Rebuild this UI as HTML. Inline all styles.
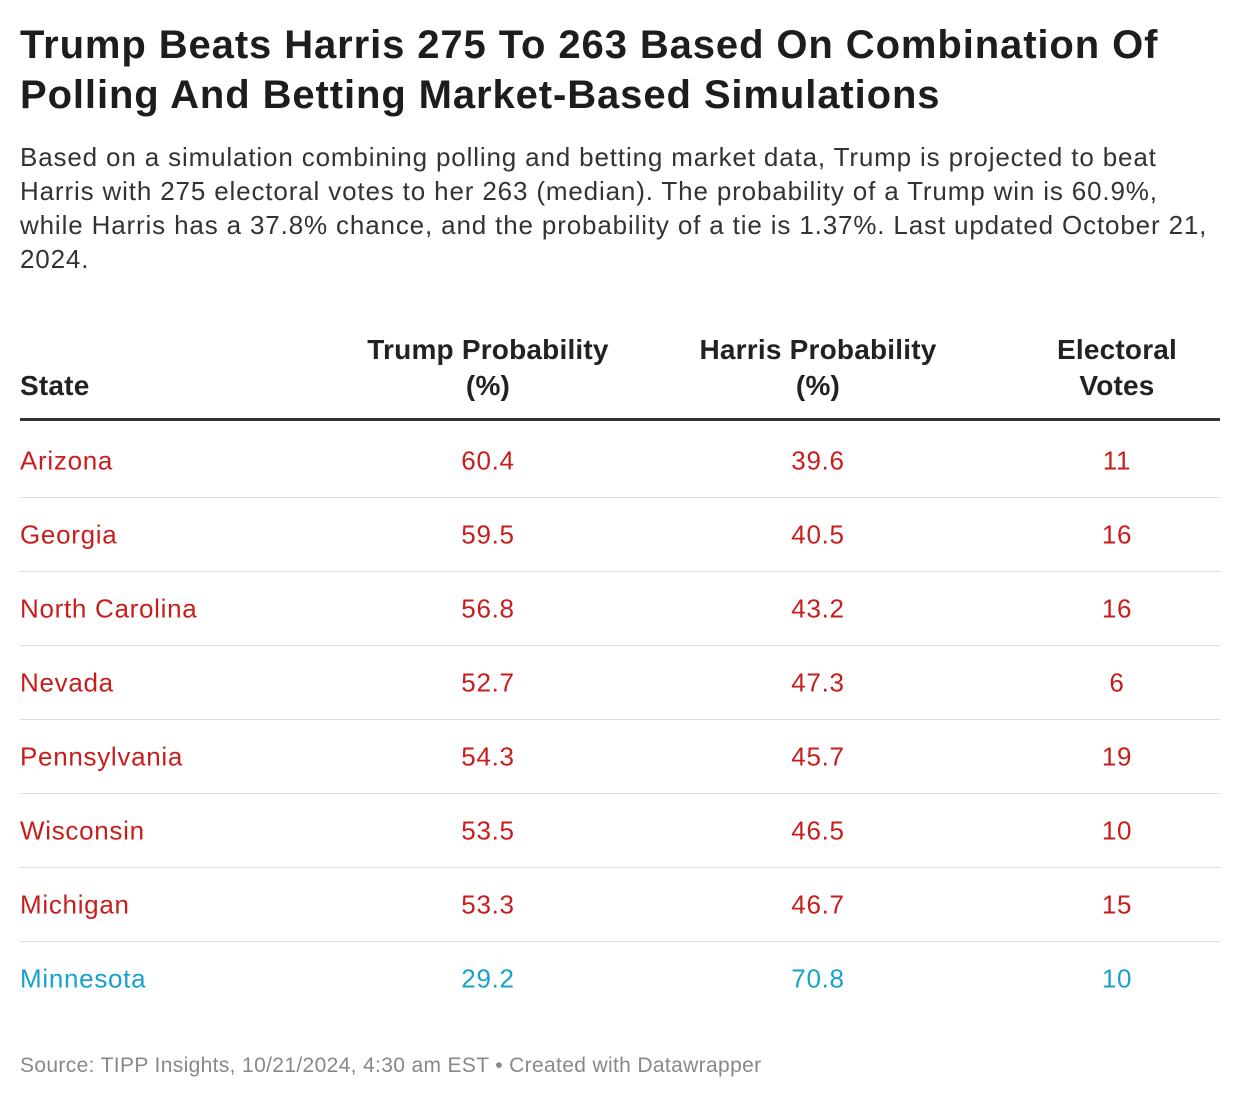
<!DOCTYPE html>
<html><head><meta charset="utf-8"><style>
body{margin:0;width:1240px;height:1100px;background:#fff;font-family:"Liberation Sans",Arial,sans-serif;position:relative;overflow:hidden;color:#1d1d1d}
h1{position:absolute;left:20px;top:20px;margin:0;font-size:40px;line-height:50px;font-weight:bold;width:1220px;letter-spacing:0.9px;white-space:nowrap}
.sub{position:absolute;left:20px;top:140px;width:1220px;font-size:26px;line-height:34px;color:#333;letter-spacing:0.85px;white-space:nowrap}
.head{position:absolute;left:20px;top:328px;width:1200px;height:90px;border-bottom:3px solid #333;font-weight:bold;font-size:28px;line-height:36px;color:#222;letter-spacing:0.2px}
.row{position:absolute;left:20px;width:1200px;height:73px;border-bottom:1px solid #ddd;font-size:26px;letter-spacing:0.7px}
.c{position:absolute;transform:translateX(-50%);text-align:center;white-space:nowrap}
.row span{position:absolute;top:50%;transform:translate(-50%,-50%);white-space:nowrap}
.row span.s{transform:translate(0,-50%);left:0}
.red{color:#c71e1d}.blue{color:#18a1cd}
.foot{position:absolute;left:20px;top:1054px;font-size:21px;color:#888;letter-spacing:0.35px;white-space:nowrap}
</style></head><body>
<h1>Trump Beats Harris 275 To 263 Based On Combination Of<br>Polling And Betting Market-Based Simulations</h1>
<div class="sub">Based on a simulation combining polling and betting market data, Trump is projected to beat<br>Harris with 275 electoral votes to her 263 (median). The probability of a Trump win is 60.9%,<br>while Harris has a 37.8% chance, and the probability of a tie is 1.37%. Last updated October 21,<br>2024.</div>
<div class="head">
<div style="position:absolute;left:0;top:40px">State</div>
<div class="c" style="left:468px;top:4px">Trump Probability<br>(%)</div>
<div class="c" style="left:798px;top:4px">Harris Probability<br>(%)</div>
<div class="c" style="left:1097px;top:4px">Electoral<br>Votes</div>
</div>
<div id="rows"></div>
<div class="foot">Source: TIPP Insights, 10/21/2024, 4:30 am EST • Created with Datawrapper</div>
<script>
const states=["Arizona","Georgia","North Carolina","Nevada","Pennsylvania","Wisconsin","Michigan","Minnesota"];
const trump=["60.4","59.5","56.8","52.7","54.3","53.5","53.3","29.2"];
const harris=["39.6","40.5","43.2","47.3","45.7","46.5","46.7","70.8"];
const votes=["11","16","16","6","19","10","15","10"];
const wrap=document.getElementById('rows');
states.forEach((s,i)=>{
  const r=document.createElement('div');
  r.className='row '+(parseFloat(trump[i])>=50?'red':'blue');
  r.style.top=(424+i*74)+'px';
  if(i===states.length-1)r.style.borderBottom='none';
  
  
  r.innerHTML='<span class="s">'+s+'</span><span style="left:468px">'+trump[i]+'</span><span style="left:798px">'+harris[i]+'</span><span style="left:1097px">'+votes[i]+'</span>';
  wrap.appendChild(r);
});
</script>
</body></html>
